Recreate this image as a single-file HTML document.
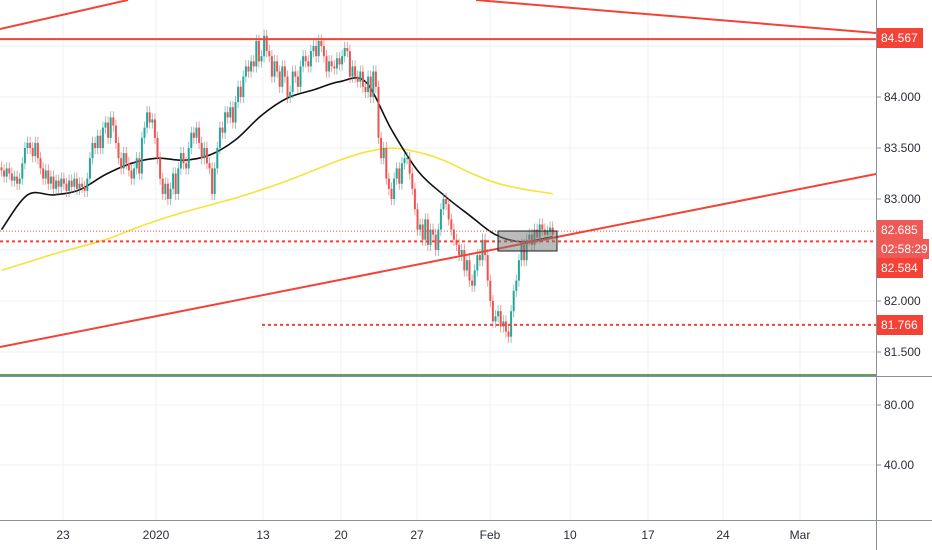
<!DOCTYPE html>
<html><head><meta charset="utf-8">
<style>
body{margin:0;background:#fff;font-family:"Liberation Sans",sans-serif;}
svg{display:block}
text{font-family:"Liberation Sans",sans-serif;font-size:12px;fill:#2a2e39}
</style></head>
<body>
<svg id="chart" width="932" height="550">
<g id="grid"></g>
<g id="lower"></g>
<g id="ma"></g>
<g id="candles"></g>
<g id="draw"></g>
<g id="axis"></g>
</svg>
<script>
const closes=[83.28,83.22,83.30,83.25,83.18,83.22,83.15,83.20,83.35,83.50,
83.55,83.50,83.42,83.55,83.40,83.30,83.20,83.28,83.15,83.22,
83.10,83.18,83.12,83.20,83.15,83.08,83.18,83.12,83.20,83.10,
83.15,83.12,83.08,83.20,83.40,83.55,83.50,83.62,83.50,83.70,
83.75,83.60,83.80,83.72,83.55,83.40,83.30,83.45,83.35,83.28,
83.20,83.30,83.40,83.25,83.60,83.70,83.85,83.75,83.78,83.60,
83.40,83.20,83.05,83.15,83.00,83.10,83.25,83.05,83.30,83.45,
83.35,83.30,83.50,83.65,83.60,83.70,83.55,83.40,83.50,83.35,
83.30,83.05,83.30,83.50,83.70,83.65,83.85,83.80,83.90,83.75,
83.95,84.10,84.00,84.20,84.30,84.25,84.35,84.30,84.55,84.35,
84.40,84.60,84.45,84.40,84.20,84.35,84.25,84.10,84.30,84.20,
84.00,84.05,84.25,84.20,84.10,84.30,84.40,84.35,84.30,84.45,
84.50,84.40,84.55,84.50,84.40,84.25,84.35,84.30,84.28,84.38,
84.32,84.40,84.48,84.45,84.20,84.30,84.20,84.15,84.25,84.10,
84.05,84.20,84.00,84.25,84.10,83.60,83.40,83.50,83.20,83.10,
83.00,83.20,83.30,83.15,83.35,83.40,83.40,83.25,83.10,82.90,
82.70,82.75,82.60,82.80,82.55,82.70,82.65,82.50,82.70,82.90,
83.00,82.95,82.80,82.70,82.60,82.55,82.45,82.50,82.30,82.40,
82.20,82.15,82.30,82.45,82.40,82.60,82.45,82.20,82.00,81.80,
81.85,81.90,81.75,81.80,81.70,81.65,81.90,82.10,82.20,82.40,
82.55,82.40,82.60,82.65,82.55,82.70,82.62,82.75,82.70,82.65,
82.68,82.72,82.65];
const maFast=[82.70,83.04,83.04,83.09,83.24,83.35,83.40,83.38,83.43,83.58,83.82,83.99,84.07,84.15,84.15,83.68,83.28,83.04,82.84,82.65,82.58,82.62,82.63];
const maSlow=[82.30,82.38,82.46,82.53,82.60,82.70,82.79,82.87,82.94,83.01,83.09,83.18,83.28,83.38,83.46,83.50,83.46,83.38,83.26,83.16,83.10,83.06,83.05];
const priceTicks=["84.500","84.000","83.500","83.000","82.500","82.000","81.500"];
const dateLabels=["23","2020","13","20","27","Feb","10","17","24","Mar"];
const datePos=[63,156,263,341,417,490,570,648,723,800];
const levels=[84.567,82.685,82.584,81.766];

const NS="http://www.w3.org/2000/svg";
const Y=p=>97+(84-p)*102;
const X=i=>1.5+i*2.6;
function mk(parent,tag,at){const e=document.createElementNS(NS,tag);for(const k in at)e.setAttribute(k,at[k]);document.getElementById(parent).appendChild(e);return e;}

// grid
priceTicks.forEach(t=>{const y=Y(+t);const l=mk('grid','line',{x1:0,x2:876,y1:y,y2:y,stroke:'#edf1f5'});

});
datePos.forEach(x=>{const l=mk('grid','line',{x1:x,x2:x,y1:0,y2:520,stroke:'#edf1f5'});

});
[405,465].forEach(y=>{const l=mk('grid','line',{x1:0,x2:876,y1:y,y2:y,stroke:'#edf1f5'});

});

// lower pane
let g=mk('lower','line',{x1:0,x2:876,y1:375,y2:375,stroke:'#2e7d32','stroke-width':1.5});



// MAs (smoothed through points)
function maPath(arr,col,name){
const pts=arr.map((v,k)=>[X(Math.min(k*10,closes.length-1)),Y(v)]);
let d='M'+pts[0][0]+','+pts[0][1];
for(let k=0;k<pts.length-1;k++){const p0=pts[k-1]||pts[k],p1=pts[k],p2=pts[k+1],p3=pts[k+2]||p2;
const c1=[p1[0]+(p2[0]-p0[0])/6,p1[1]+(p2[1]-p0[1])/6],c2=[p2[0]-(p3[0]-p1[0])/6,p2[1]-(p3[1]-p1[1])/6];
d+=`C${c1[0]},${c1[1]} ${c2[0]},${c2[1]} ${p2[0]},${p2[1]}`;}
const p=mk('ma','path',{d:d,fill:'none',stroke:col,'stroke-width':1.6});

}
maPath(maSlow,'#f5e33b','slow-moving-average');
maPath(maFast,'#111','fast-moving-average');

// candles
closes.forEach((c,i)=>{const o=i?closes[i-1]:c+0.03;const up=c>=o;const col=up?'#26a69a':'#ef5350';
const hi=Math.max(o,c)+0.06,lo=Math.min(o,c)-0.06;const x=X(i);
const w=mk('candles','line',{x1:x,x2:x,y1:Y(hi),y2:Y(lo),stroke:col,'stroke-width':0.8,opacity:0.7});


const b=mk('candles','rect',{x:x-1,y:Y(Math.max(o,c)),width:2,height:Math.max(1,Math.abs(Y(o)-Y(c))),fill:col});

});

// drawings
function ln(a,name){const l=mk('draw','line',a);}
ln({x1:0,x2:876,y1:Y(levels[0]),y2:Y(levels[0]),stroke:'#f44336','stroke-width':2},'resistance-line');
ln({x1:0,x2:128,y1:29,y2:0,stroke:'#f44336','stroke-width':2},'trendline-top-left');
ln({x1:476,x2:876,y1:0,y2:33,stroke:'#f44336','stroke-width':2},'trendline-top-right');
ln({x1:0,x2:876,y1:347,y2:174,stroke:'#f44336','stroke-width':2},'rising-trendline');
ln({x1:0,x2:876,y1:Y(levels[1]),y2:Y(levels[1]),stroke:'#f44336','stroke-width':1,'stroke-dasharray':'1,2'},'last-price-line');
ln({x1:0,x2:876,y1:Y(levels[2]),y2:Y(levels[2]),stroke:'#f44336','stroke-width':2,'stroke-dasharray':'3,3'},'support-line');
ln({x1:262,x2:876,y1:Y(levels[3]),y2:Y(levels[3]),stroke:'#f44336','stroke-width':2,'stroke-dasharray':'3,3'},'low-support-line');
const bx=mk('draw','rect',{x:498,y:231,width:59,height:20,fill:'rgba(120,120,120,0.5)',stroke:'#222','stroke-width':1});



// axes
function ax(tag,a,name){const e=mk('axis',tag,a);return e;}
ax('rect',{x:877,y:0,width:55,height:550,fill:'#fff'},'price-axis-bg');
ax('line',{x1:876.5,x2:876.5,y1:0,y2:550,stroke:'#8a9099'},'price-axis-line');
ax('line',{x1:0,x2:932,y1:376.5,y2:376.5,stroke:'#8a9099'},'pane-separator');
ax('line',{x1:0,x2:932,y1:520.5,y2:520.5,stroke:'#8a9099'},'time-axis-line');
priceTicks.slice(1).forEach(t=>{const y=Y(+t);ax('line',{x1:877,x2:881,y1:y,y2:y,stroke:'#8a9099'},'tick');
const tx=ax('text',{x:884,y:y+4},'price-tick-label');tx.textContent=t;});
[['80.00',405],['40.00',465]].forEach(([t,y])=>{ax('line',{x1:877,x2:881,y1:y,y2:y,stroke:'#8a9099'},'tick');
const tx=ax('text',{x:884,y:y+4},'indicator-tick-label');tx.textContent=t;});
dateLabels.forEach((t,k)=>{const tx=ax('text',{x:datePos[k],y:539,'text-anchor':'middle'},'date-label');tx.textContent=t;});
function tag(y,t,name,fill,w){ax('rect',{x:877,y:y-10,width:w||46,height:20,fill:fill},name+'-bg');
const tx=ax('text',{x:881,y:y+4,style:'fill:#fff'},name);tx.textContent=t;}
tag(38,'84.567','level-label-84567','#f44336');
tag(230,'82.685','level-label-82685','#ef5a57');
tag(249,'02:58:29','countdown-label','#ef5a57',52);
tag(268,'82.584','level-label-82584','#f44336');
tag(325,'81.766','level-label-81766','#f44336');
</script>
</body></html>
